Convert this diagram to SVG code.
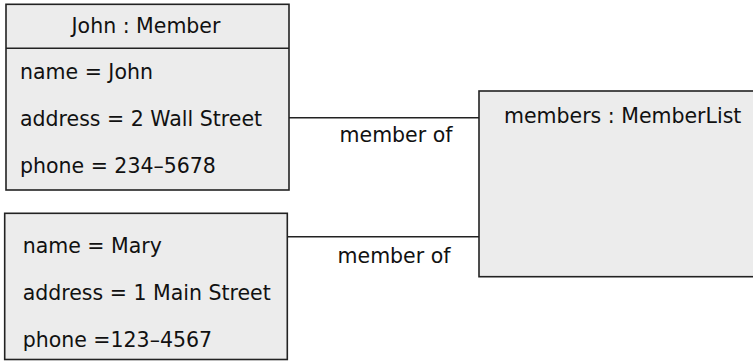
<svg xmlns="http://www.w3.org/2000/svg" width="753" height="361" viewBox="0 0 753 361">
<style>
.box{fill:#ececec;stroke:#222;stroke-width:1.6}
.ln{stroke:#222;stroke-width:1.6;fill:none}
text{font-family:"DejaVu Sans","Liberation Sans",sans-serif;font-size:20.5px;fill:#111}
</style>
<rect width="753" height="361" fill="#fff"/>
<g id="connectors">
<line class="ln" x1="289" y1="117.7" x2="479" y2="117.7"/>
<line class="ln" x1="287.5" y1="236.7" x2="479" y2="236.7"/>
<text x="396" y="141.7" text-anchor="middle">member of</text>
<text x="394" y="262.7" text-anchor="middle">member of</text>
</g>
<g id="john">
<rect class="box" x="6" y="4.3" width="283" height="185.7"/>
<line class="ln" x1="6" y1="48.3" x2="289" y2="48.3"/>
<text x="146" y="32.7" text-anchor="middle">John : Member</text>
<text x="20" y="79.3">name = John</text>
<text x="20" y="126">address = 2 Wall Street</text>
<text x="20" y="172.7">phone = 234–5678</text>
</g>
<g id="mary">
<rect class="box" x="4.7" y="213.3" width="282.6" height="146.2"/>
<text x="22.7" y="253.3">name = Mary</text>
<text x="22.7" y="300">address = 1 Main Street</text>
<text x="22.7" y="346.7">phone =123–4567</text>
</g>
<g id="members">
<rect class="box" x="479" y="91" width="290" height="185.7"/>
<text x="504" y="123.3">members : MemberList</text>
</g>
</svg>
